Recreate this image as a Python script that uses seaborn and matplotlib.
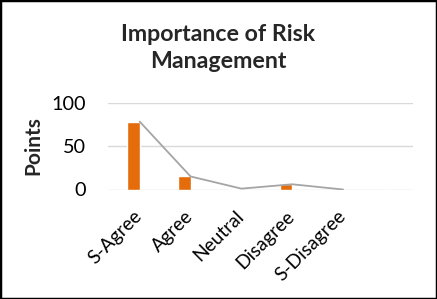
import matplotlib
matplotlib.use("Agg")
import matplotlib.pyplot as plt
import matplotlib.transforms as mtransforms
from matplotlib.patches import Rectangle
import seaborn as sns
import pandas as pd

categories = ["S-Agree", "Agree", "Neutral", "Disagree", "S-Disagree", ""]
bar_values = [78, 15, 1, 6, 0, 0]
line_values = [78, 15, 1, 6, 0, None]
y_ticks = [0, 50, 100]

sns.set_theme(style="white")
plt.rcParams["font.family"] = ["Lato", "DejaVu Sans"]

df = pd.DataFrame({"cat": categories, "val": bar_values})

fig = plt.figure(figsize=(4.37, 2.99), dpi=100)
ax = fig.add_axes([108 / 437, 1 - 189.5 / 299, (413 - 108) / 437, (189.5 - 102.5) / 299])

sns.barplot(data=df, x="cat", y="val", order=categories, color="#E46C0A",
            saturation=1, width=0.25, ax=ax)

# line series (offset to the right edge of the bars)
offset = mtransforms.offset_copy(ax.transData, fig=fig, x=6.3, y=0, units="dots")
lx = [i for i, v in enumerate(line_values) if v is not None]
ly = [v for v in line_values if v is not None]
ax.plot(lx, ly, color="#A5A5A5", linewidth=1.3, transform=offset, zorder=3)

ax.set_xlim(-0.5, 5.5)
ax.set_ylim(0, 100)
ax.set_yticks(y_ticks)
ax.set_yticklabels([str(t) for t in y_ticks], fontsize=14.3, color="#000000")
ax.yaxis.grid(True, color="#D9D9D9", linewidth=1)
ax.set_axisbelow(True)
for s in ax.spines.values():
    s.set_visible(False)
ax.tick_params(axis="y", length=0, pad=16)
ax.tick_params(axis="x", length=0, pad=13)
ax.set_xticks(range(len(categories)))
ax.set_xticklabels(categories, rotation=45, ha="right", rotation_mode="anchor",
                   fontsize=13.8, color="#000000")
ax.set_xlabel("")
ax.set_ylabel("Points", fontsize=15, fontweight="bold", labelpad=6)

fig.text(0.5, 1 - 48 / 299, "Importance of Risk\nManagement", ha="center", va="center",
         fontsize=16.7, fontweight="bold", linespacing=1.3)

fig.patches.append(Rectangle((0, 0), 1, 1, transform=fig.transFigure, fill=False,
                             edgecolor="#000000", linewidth=2.5))

fig.savefig("out.png", dpi=100, facecolor="white")
